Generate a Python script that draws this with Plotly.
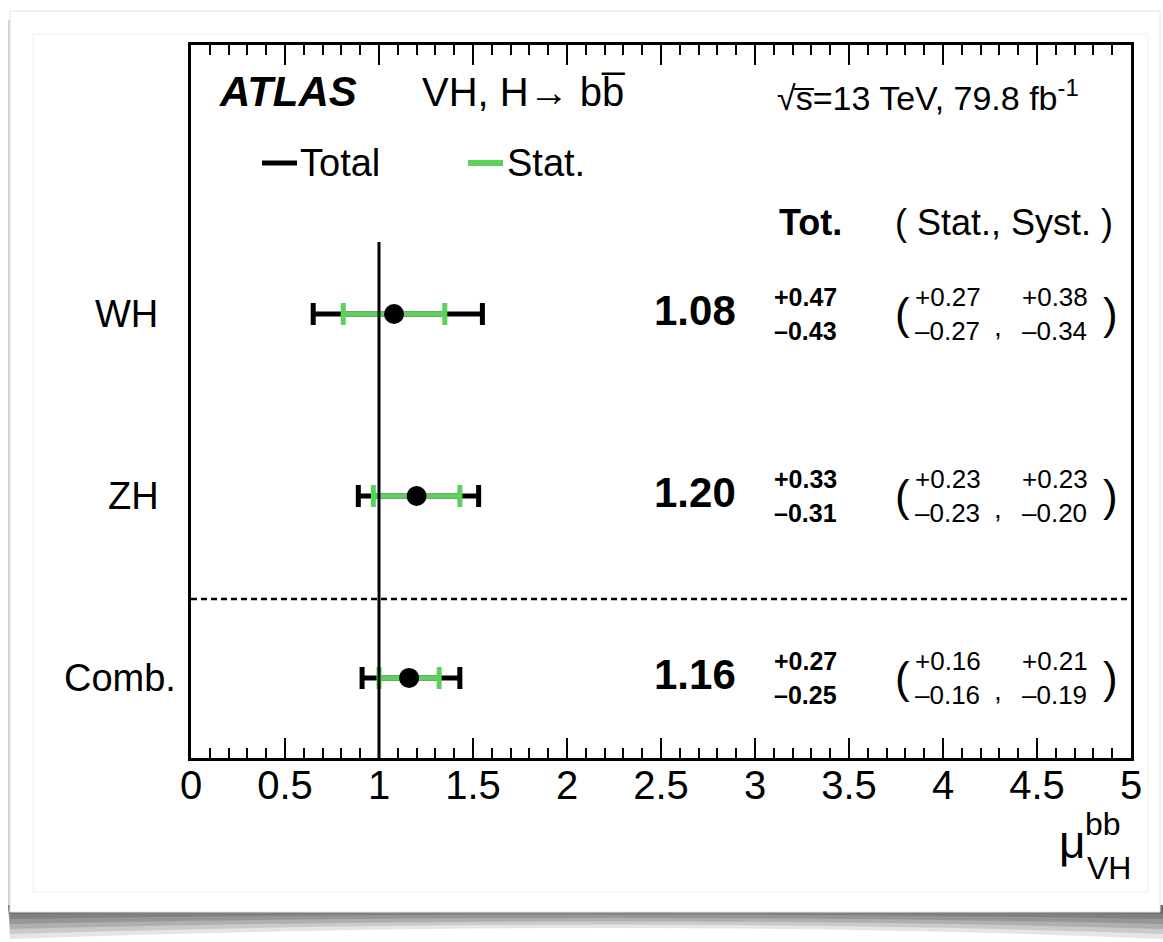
import plotly.graph_objects as go

# ---- measurements: signal strength per channel ----
channels = ["WH", "ZH", "Comb."]
mu = [1.08, 1.20, 1.16]
tot_up = [0.47, 0.33, 0.27]
tot_dn = [0.43, 0.31, 0.25]
stat_up = [0.27, 0.23, 0.16]
stat_dn = [0.27, 0.23, 0.16]
syst_up = [0.38, 0.23, 0.21]
syst_dn = [0.34, 0.20, 0.19]
row_y = [2, 1, 0]
x_ticks = [0, 0.5, 1, 1.5, 2, 2.5, 3, 3.5, 4, 4.5, 5]
x_tick_text = ["0", "0.5", "1", "1.5", "2", "2.5", "3", "3.5", "4", "4.5", "5"]

W, H = 1163, 942
L, R, T, B = 191, 32, 45, 184
PW, PH = W - L - R, H - T - B
Y0, Y1 = -0.44, 3.478
FONT = "Liberation Sans, Arial, Helvetica, sans-serif"
GREEN = "#5cd25a"


def px(x):
    return (x - L) / PW


def py(y):
    return (H - B - y) / PH


fig = go.Figure()

# total uncertainty (black), then statistical (green) with the central value on top
fig.add_trace(go.Scatter(
    x=mu, y=row_y, mode="markers",
    marker=dict(size=1, color="rgba(0,0,0,0)"),
    error_x=dict(type="data", symmetric=False, array=tot_up, arrayminus=tot_dn,
                 color="black", thickness=5, width=11),
    showlegend=False, hoverinfo="skip"))
fig.add_trace(go.Scatter(
    x=mu, y=row_y, mode="markers",
    marker=dict(size=20, color="black"),
    error_x=dict(type="data", symmetric=False, array=stat_up, arrayminus=stat_dn,
                 color=GREEN, thickness=5, width=11),
    showlegend=False, hoverinfo="skip"))

shapes = []
# page card with a curled drop shadow underneath
for h, op in [(34, 0.12), (29, 0.14), (24, 0.16), (19, 0.18), (14, 0.2), (9, 0.22)]:
    shapes.append(dict(type="path", xref="paper", yref="paper", layer="below",
                       path=(f"M {px(8)},{py(905)} L {px(1163)},{py(905)} "
                             f"L {px(1163)},{py(905 + h)} Q {px(640)},{py(905 + h * 0.35)} {px(10)},{py(905 + h)} Z"),
                       fillcolor=f"rgba(40,40,40,{op})", line=dict(width=0)))
shapes.append(dict(type="rect", xref="paper", yref="paper", layer="below",
                   x0=px(8), x1=px(13), y0=py(912), y1=py(20),
                   fillcolor="rgba(120,120,120,0.35)", line=dict(width=0)))
shapes.append(dict(type="rect", xref="paper", yref="paper", layer="below",
                   x0=px(10), x1=px(1160), y0=py(912), y1=py(11),
                   fillcolor="white", line=dict(color="#e4e4e4", width=1)))
shapes.append(dict(type="rect", xref="paper", yref="paper", layer="below",
                   x0=px(33), x1=px(1148), y0=py(892), y1=py(34),
                   fillcolor="white", line=dict(color="#efefef", width=1)))
# SM reference line and separator
shapes.append(dict(type="line", xref="x", yref="y", x0=1, x1=1, y0=Y0, y1=2.396,
                   line=dict(color="black", width=3)))
shapes.append(dict(type="line", xref="x", yref="y", x0=0, x1=5, y0=0.434, y1=0.434,
                   line=dict(color="black", width=2.5, dash="6px,4px")))
# legend line samples
shapes.append(dict(type="line", xref="paper", yref="paper", x0=px(262), x1=px(297),
                   y0=py(163), y1=py(163), line=dict(color="black", width=5)))
shapes.append(dict(type="line", xref="paper", yref="paper", x0=px(468), x1=px(503),
                   y0=py(163), y1=py(163), line=dict(color=GREEN, width=6)))

ann = []


def text(x, y, s, size, xanchor="center", bold=False):
    ann.append(dict(x=px(x), y=py(y), xref="paper", yref="paper",
                    text=(f"<b>{s}</b>" if bold else s), showarrow=False,
                    xanchor=xanchor, yanchor="middle",
                    font=dict(family=FONT, size=size, color="black")))


text(217, 92, "<i>ATLAS</i>", 42, xanchor="left", bold=True)
text(420, 92, "VH, H\u2192 bb\u0305", 40, xanchor="left")
text(775, 96, "\u221as\u0305=13 TeV, 79.8 fb<sup>-1</sup>", 34, xanchor="left")
text(298, 163, "Total", 38, xanchor="left")
text(505, 163, "Stat.", 38, xanchor="left")
text(810, 222, "Tot.", 36, bold=True)
text(893, 222, "( Stat., Syst. )", 36, xanchor="left")

label_x = [126, 133, 120]
for i, name in enumerate(channels):
    yv = row_y[i]
    ann.append(dict(x=px(label_x[i]), y=yv, xref="paper", yref="y", text=name,
                    showarrow=False, xanchor="center", yanchor="middle",
                    font=dict(family=FONT, size=38, color="black")))
    d = 0.093
    entries = [
        (695, 0.02, f"<b>{mu[i]:.2f}</b>", 42, "center"),
        (772, d, f"<b>+{tot_up[i]:.2f}</b>", 25, "left"),
        (772, -d, f"<b>\u2013{tot_dn[i]:.2f}</b>", 25, "left"),
        (893, 0.0, "(", 44, "left"),
        (913, d, f"+{stat_up[i]:.2f}", 26, "left"),
        (913, -d, f"\u2013{stat_dn[i]:.2f}", 26, "left"),
        (998, -0.07, ",", 28, "center"),
        (1020, d, f"+{syst_up[i]:.2f}", 26, "left"),
        (1020, -d, f"\u2013{syst_dn[i]:.2f}", 26, "left"),
        (1101, 0.0, ")", 44, "left"),
    ]
    for x, dy, s, size, xa in entries:
        ann.append(dict(x=px(x), y=yv + dy, xref="paper", yref="y", text=s,
                        showarrow=False, xanchor=xa, yanchor="middle",
                        font=dict(family=FONT, size=size, color="black")))

# axis title mu^bb_VH
text(1072, 842, "\u03bc", 46)
text(1123, 824, "bb", 32, xanchor="right")
text(1133, 868, "VH", 32, xanchor="right")

fig.update_layout(
    width=W, height=H,
    margin=dict(l=L, r=R, t=T, b=B),
    paper_bgcolor="white", plot_bgcolor="rgba(0,0,0,0)",
    shapes=shapes, annotations=ann,
    xaxis=dict(range=[0, 5], tickvals=x_ticks, ticktext=x_tick_text,
               ticks="inside", ticklen=20, tickwidth=1.5, tickcolor="black",
               minor=dict(dtick=0.1, tick0=0, ticks="inside", ticklen=10,
                          tickwidth=1.5, tickcolor="black", showgrid=False),
               showline=True, linewidth=2.5, linecolor="black", mirror="ticks",
               showgrid=False, zeroline=False, ticklabelstandoff=-10,
               tickfont=dict(family=FONT, size=40, color="black")),
    yaxis=dict(range=[Y0, Y1], showticklabels=False, ticks="",
               showline=True, linewidth=2.5, linecolor="black", mirror=True,
               showgrid=False, zeroline=False),
    showlegend=False,
)

fig.write_html("out.html")
